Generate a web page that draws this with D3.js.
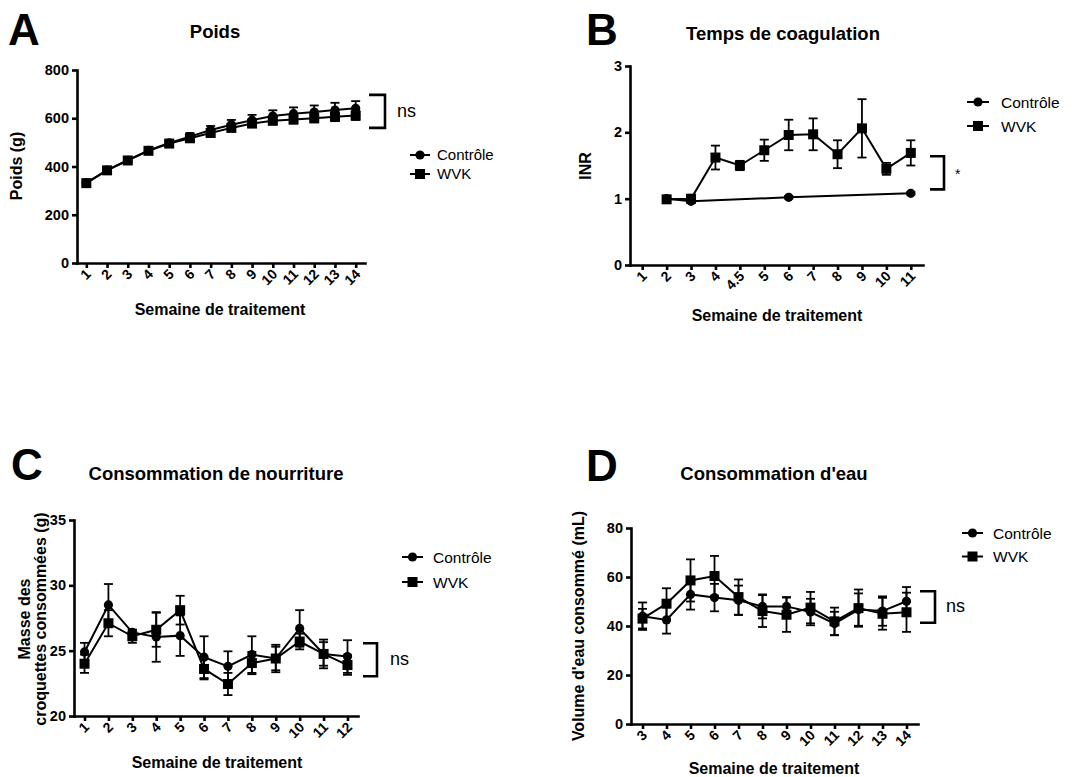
<!DOCTYPE html>
<html>
<head>
<meta charset="utf-8">
<script src="https://cdn.jsdelivr.net/npm/d3@7"></script>
<style>
body { margin: 0; background: #fff; }
text { font-family: "Liberation Sans", Arial, sans-serif; fill: #000; }
</style>
</head>
<body>
<script>
// --- A : Poids ---
let semainesA = ["1","2","3","4","5","6","7","8","9","10","11","12","13","14"]
let poidsControle = [332, 385, 426, 467, 498, 524, 551, 573, 592, 609, 619, 626, 634, 641]
let poidsControleErr = [6, 7, 8, 10, 12, 15, 17, 20, 22, 24, 26, 27, 30, 30]
let poidsWVK = [331, 384, 425, 465, 495, 517, 539, 560, 578, 590, 595, 600, 606, 611]
let poidsWVKErr = [5, 6, 7, 9, 11, 12, 13, 14, 15, 16, 17, 17, 18, 18]

// --- B : Temps de coagulation (INR) ---
let semainesB = ["1","2","3","4","4.5","5","6","7","8","9","10","11"]
let inrControle = [null, 1.0, 0.96, null, null, null, 1.02, null, null, null, null, 1.08]
let inrControleErr = [null, 0.02, 0.02, null, null, null, 0.02, null, null, null, null, 0.02]
let inrWVK = [null, 0.99, 1.0, 1.62, 1.50, 1.73, 1.96, 1.97, 1.67, 2.06, 1.45, 1.69]
let inrWVKErr = [null, 0.02, 0.03, 0.18, 0.07, 0.16, 0.23, 0.24, 0.21, 0.44, 0.09, 0.19]

// --- C : Consommation de nourriture ---
let semainesC = ["1","2","3","4","5","6","7","8","9","10","11","12"]
let nourritureControle = [24.9, 28.5, 26.4, 26.05, 26.15, 24.5, 23.8, 24.7, 24.4, 26.7, 24.75, 24.55]
let nourritureControleErr = [0.7, 1.6, 0.2, 1.9, 1.55, 1.6, 1.15, 1.4, 0.9, 1.4, 1.1, 1.25]
let nourritureWVK = [24.0, 27.1, 26.1, 26.6, 28.1, 23.6, 22.45, 24.05, 24.4, 25.7, 24.75, 23.9]
let nourritureWVKErr = [0.7, 1.0, 0.5, 1.3, 1.1, 0.8, 0.85, 0.85, 1.05, 0.6, 0.9, 0.75]

// --- D : Consommation d'eau ---
let semainesD = ["3","4","5","6","7","8","9","10","11","12","13","14"]
let eauControle = [44.0, 42.5, 52.9, 51.6, 50.5, 48.0, 48.0, 45.7, 41.0, 46.7, 46.1, 50.1]
let eauControleErr = [5.6, 5.6, 6.2, 5.6, 6.0, 4.9, 3.8, 5.4, 4.8, 6.6, 6.0, 5.8]
let eauWVK = [43.0, 49.1, 58.6, 60.4, 51.8, 46.1, 44.6, 47.5, 41.9, 47.3, 45.0, 45.6]
let eauWVKErr = [4.0, 6.3, 8.6, 8.2, 7.2, 6.5, 7.0, 6.4, 5.6, 7.6, 6.5, 8.0]

let groupes = ["Contrôle", "WVK"]

let svg = d3.select("body")
  .append("svg")
  .attr("width", 1073)
  .attr("height", 777)

function zip(cats, vals, errs){
  return cats.map((c, i) => ({c: c, v: vals[i], e: errs[i]})).filter(d => d.v != null)
}

function marker(g, kind, cx, cy){
  if(kind == "circle"){
    g.append("circle").attr("cx", cx).attr("cy", cy).attr("r", 4.6).attr("fill", "#000")
  } else {
    g.append("rect").attr("x", cx - 5).attr("y", cy - 5).attr("width", 10).attr("height", 10).attr("fill", "#000")
  }
}

function panel(p){
  let x = d3.scalePoint().domain(p.cats).range([p.left, p.right]).padding(p.pad)
  let y = d3.scaleLinear().domain(p.yDomain).range([p.bottom, p.top])
  let g = svg.append("g")

  // axes
  let ax = g.append("g")
    .attr("transform", `translate(0,${p.bottom})`)
    .call(d3.axisBottom(x).tickSize(5).tickSizeOuter(0))
  ax.selectAll("text")
    .attr("x", 0).attr("y", 0).attr("dy", null)
    .attr("text-anchor", "end")
    .attr("transform", "translate(5,12) rotate(-45)")
    .style("font-size", "14px").style("font-weight", "bold")

  let ay = g.append("g")
    .attr("transform", `translate(${p.left},0)`)
    .call(d3.axisLeft(y).tickValues(p.yTicks).tickFormat(d3.format("d")).tickSize(5).tickSizeOuter(0))
  ay.selectAll("text").attr("x", -8).style("font-size", "14.5px").style("font-weight", "bold")

  g.selectAll(".domain, .tick line").attr("stroke", "#000").attr("stroke-width", 2.6)
  g.selectAll(".domain").attr("stroke-linecap", "square")

  // series
  let line = d3.line().x(d => x(d.c)).y(d => y(d.v))
  p.series.forEach(s => {
    let sg = g.append("g")
    sg.append("path").attr("d", line(s.data)).attr("fill", "none")
      .attr("stroke", "#000").attr("stroke-width", 2)
    s.data.forEach(d => {
      if(d.e){
        let cx = x(d.c)
        let y0 = y(d.v - d.e), y1 = y(d.v + d.e)
        sg.append("line").attr("x1", cx).attr("x2", cx).attr("y1", y0).attr("y2", y1)
          .attr("stroke", "#000").attr("stroke-width", 1.8)
        ;[y0, y1].forEach(yy => {
          sg.append("line").attr("x1", cx - 4.5).attr("x2", cx + 4.5).attr("y1", yy).attr("y2", yy)
            .attr("stroke", "#000").attr("stroke-width", 1.8)
        })
      }
      marker(sg, s.shape, x(d.c), y(d.v))
    })
  })

  // texts
  g.append("text").attr("x", p.letter[0]).attr("y", p.letter[1])
    .style("font-size", "44px").style("font-weight", "bold").text(p.letterText)
  g.append("text").attr("x", p.title[0]).attr("y", p.title[1]).attr("text-anchor", "middle")
    .style("font-size", "18.5px").style("font-weight", "bold").text(p.titleText)
  g.append("text").attr("x", p.xTitle[0]).attr("y", p.xTitle[1]).attr("text-anchor", "middle")
    .style("font-size", "16px").style("font-weight", "bold").text("Semaine de traitement")
  p.yTitle.forEach(t => {
    g.append("text").attr("transform", `translate(${t.x},${p.yTitleCy}) rotate(-90)`)
      .attr("text-anchor", "middle")
      .style("font-size", "16px").style("font-weight", "bold").text(t.text)
  })

  // legend
  groupes.forEach((name, i) => {
    let ly = p.legend.y + i * p.legend.dy
    g.append("line").attr("x1", p.legend.x0).attr("x2", p.legend.x1).attr("y1", ly).attr("y2", ly)
      .attr("stroke", "#000").attr("stroke-width", 2)
    marker(g, i == 0 ? "circle" : "square", (p.legend.x0 + p.legend.x1) / 2, ly)
    g.append("text").attr("x", p.legend.tx).attr("y", ly).attr("dy", "0.36em")
      .style("font-size", p.legend.size + "px").text(name)
  })

  // significance bracket
  let b = p.bracket
  g.append("path")
    .attr("d", `M${b.x0},${y(b.hi)}H${b.x1}V${y(b.lo)}H${b.x0}`)
    .attr("fill", "none").attr("stroke", "#000").attr("stroke-width", 2.6)
  g.append("text").attr("x", b.tx).attr("y", (y(b.hi) + y(b.lo)) / 2).attr("dy", b.dy)
    .style("font-size", b.size + "px").text(b.label)
}

panel({
  cats: semainesA, left: 77, right: 365, top: 70, bottom: 263, pad: 0.45,
  yDomain: [0, 800], yTicks: [0, 200, 400, 600, 800],
  series: [
    {shape: "square", data: zip(semainesA, poidsWVK, poidsWVKErr)},
    {shape: "circle", data: zip(semainesA, poidsControle, poidsControleErr)}
  ],
  letterText: "A", letter: [8, 45],
  titleText: "Poids", title: [215, 38],
  xTitle: [220, 315],
  yTitle: [{text: "Poids (g)", x: 22}], yTitleCy: 166,
  legend: {x0: 410, x1: 430, tx: 437, y: 155, dy: 19, size: 15},
  bracket: {x0: 369, x1: 385, hi: 697, lo: 560, label: "ns", tx: 397, dy: "0.3em", size: 18}
})

panel({
  cats: semainesB, left: 630, right: 923, top: 66, bottom: 265, pad: 0.5,
  yDomain: [0, 3], yTicks: [0, 1, 2, 3],
  series: [
    {shape: "circle", data: zip(semainesB, inrControle, inrControleErr)},
    {shape: "square", data: zip(semainesB, inrWVK, inrWVKErr)}
  ],
  letterText: "B", letter: [586, 45],
  titleText: "Temps de coagulation", title: [783, 40],
  xTitle: [777, 321],
  yTitle: [{text: "INR", x: 591}], yTitleCy: 166,
  legend: {x0: 967, x1: 989, tx: 1001, y: 102, dy: 24, size: 15.5},
  bracket: {x0: 930, x1: 944, hi: 1.64, lo: 1.14, label: "*", tx: 955, dy: "0.45em", size: 14}
})

panel({
  cats: semainesC, left: 74, right: 358, top: 520, bottom: 716, pad: 0.44,
  yDomain: [20, 35], yTicks: [20, 25, 30, 35],
  series: [
    {shape: "square", data: zip(semainesC, nourritureWVK, nourritureWVKErr)},
    {shape: "circle", data: zip(semainesC, nourritureControle, nourritureControleErr)}
  ],
  letterText: "C", letter: [11, 480],
  titleText: "Consommation de nourriture", title: [216, 480],
  xTitle: [217, 768],
  yTitle: [{text: "Masse des", x: 30}, {text: "croquettes consommées (g)", x: 46}], yTitleCy: 619,
  legend: {x0: 402, x1: 423, tx: 433, y: 557, dy: 25, size: 15.5},
  bracket: {x0: 363, x1: 377, hi: 25.57, lo: 23.04, label: "ns", tx: 390, dy: "0.3em", size: 18}
})

panel({
  cats: semainesD, left: 631, right: 918, top: 528, bottom: 724, pad: 0.48,
  yDomain: [0, 80], yTicks: [0, 20, 40, 60, 80],
  series: [
    {shape: "square", data: zip(semainesD, eauWVK, eauWVKErr)},
    {shape: "circle", data: zip(semainesD, eauControle, eauControleErr)}
  ],
  letterText: "D", letter: [586, 481],
  titleText: "Consommation d'eau", title: [774, 480],
  xTitle: [774, 774],
  yTitle: [{text: "Volume d'eau consommé (mL)", x: 584}], yTitleCy: 626,
  legend: {x0: 962, x1: 983, tx: 993, y: 533, dy: 23.5, size: 15.5},
  bracket: {x0: 920, x1: 935, hi: 54.2, lo: 41.3, label: "ns", tx: 946, dy: "0.3em", size: 18}
})
</script>
</body>
</html>
